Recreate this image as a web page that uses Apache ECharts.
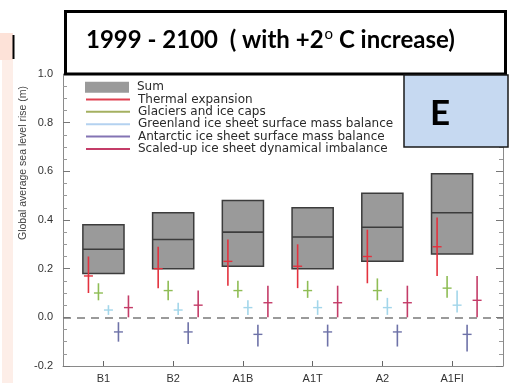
<!DOCTYPE html>
<html>
<head>
<meta charset="utf-8">
<script src="https://cdn.jsdelivr.net/npm/echarts@6/dist/echarts.min.js"></script>
<style>
  html, body { margin: 0; padding: 0; background: #fff; }
  #chart { width: 514px; height: 387px; }
</style>
</head>
<body>
<div id="chart"></div>
<script>
// scenarios on the x axis
const scenarios = ['B1', 'B2', 'A1B', 'A1T', 'A2', 'A1FI'];
const yTicks = [-0.2, 0.0, 0.2, 0.4, 0.6, 0.8, 1.0];

// total sea level rise (box: low / high, line: middle)
const sumLow  = [0.18, 0.20, 0.21, 0.20, 0.23, 0.26];
const sumHigh = [0.38, 0.43, 0.48, 0.45, 0.51, 0.59];
const sumMid  = [0.28, 0.32, 0.35, 0.33, 0.37, 0.43];

// components (vertical range + middle mark)
const thermalLow  = [0.10, 0.12, 0.13, 0.12, 0.14, 0.17];
const thermalHigh = [0.25, 0.29, 0.32, 0.30, 0.36, 0.41];
const thermalMid  = [0.17, 0.20, 0.23, 0.21, 0.25, 0.29];

const glacierLow  = [0.07, 0.07, 0.08, 0.08, 0.07, 0.08];
const glacierHigh = [0.14, 0.15, 0.15, 0.15, 0.16, 0.17];
const glacierMid  = [0.10, 0.11, 0.11, 0.11, 0.11, 0.12];

const greenlandLow  = [0.01, 0.01, 0.01, 0.01, 0.01, 0.02];
const greenlandHigh = [0.05, 0.06, 0.07, 0.07, 0.08, 0.11];
const greenlandMid  = [0.03, 0.03, 0.04, 0.04, 0.04, 0.05];

const antarcticLow  = [-0.10, -0.11, -0.12, -0.12, -0.12, -0.14];
const antarcticHigh = [-0.02, -0.02, -0.03, -0.03, -0.03, -0.03];
const antarcticMid  = [-0.06, -0.06, -0.07, -0.06, -0.06, -0.07];

const scaledLow  = [0.00, 0.00, 0.00, 0.00, 0.00, 0.00];
const scaledHigh = [0.09, 0.11, 0.13, 0.13, 0.13, 0.17];
const scaledMid  = [0.04, 0.05, 0.06, 0.06, 0.06, 0.07];

const chart = echarts.init(document.getElementById('chart'));

function rows(low, high, mid) {
  return scenarios.map((s, i) => [i, low[i], high[i], mid[i]]);
}

// grey box for the sum
function renderBox(params, api) {
  const x = api.value(0);
  const lo = api.coord([x, api.value(1)]);
  const hi = api.coord([x, api.value(2)]);
  const md = api.coord([x, api.value(3)]);
  const w = api.size([0.59, 0])[0];
  return {
    type: 'group',
    children: [
      { type: 'rect', shape: { x: lo[0] - w / 2, y: hi[1], width: w, height: lo[1] - hi[1] },
        style: { fill: '#9a9a9a', stroke: '#3c3c3c', lineWidth: 1.5 } },
      { type: 'line', shape: { x1: lo[0] - w / 2, y1: md[1], x2: lo[0] + w / 2, y2: md[1] },
        style: { stroke: '#3c3c3c', lineWidth: 1.6 } }
    ]
  };
}

// small cross: range line + middle tick, shifted sideways by px
function crossRenderer(shift, color) {
  return function (params, api) {
    const x = api.value(0);
    const lo = api.coord([x, api.value(1)]);
    const hi = api.coord([x, api.value(2)]);
    const md = api.coord([x, api.value(3)]);
    const cx = lo[0] + shift;
    return {
      type: 'group',
      children: [
        { type: 'line', shape: { x1: cx, y1: lo[1], x2: cx, y2: hi[1] },
          style: { stroke: color, lineWidth: 1.6 } },
        { type: 'line', shape: { x1: cx - 4.5, y1: md[1], x2: cx + 4.5, y2: md[1] },
          style: { stroke: color, lineWidth: 1.4 } }
      ]
    };
  };
}

const names = ['Sum', 'Thermal expansion', 'Glaciers and ice caps',
  'Greenland ice sheet surface mass balance', 'Antarctic ice sheet surface mass balance',
  'Scaled-up ice sheet dynamical imbalance'];
const colors = ['#9a9a9a', '#e3323e', '#8fbd55', '#a3d6ea', '#6e72a8', '#c43c68'];
const legendColors = ['#9a9a9a', '#e04050', '#a4b060', '#b4d2f0', '#8474b4', '#c43c68'];

function crossSeries(k, shift, data) {
  return {
    name: names[k],
    type: 'custom',
    renderItem: crossRenderer(shift, colors[k]),
    itemStyle: { color: colors[k] },
    data: data,
    z: 3
  };
}

// plain line entry so the legend shows a simple stroke
function legendLine(k) {
  return {
    name: names[k],
    type: 'line',
    symbol: 'none',
    color: legendColors[k],
    lineStyle: { color: legendColors[k], width: 1.3 },
    data: []
  };
}

const legendText = { fontSize: 12, color: '#2a2a2a', fontFamily: 'DejaVu Sans',
  lineHeight: 12.4, padding: [0, 0, 0, 3] };

const option = {
  animation: false,
  grid: { left: 63, right: 11, top: 74, bottom: 21 },
  // two legends: the grey box and the thin coloured lines
  legend: [{
    orient: 'vertical',
    left: 85,
    top: 81,
    padding: 0,
    itemWidth: 44,
    itemHeight: 11,
    icon: 'rect',
    selectedMode: false,
    textStyle: legendText,
    data: names.slice(0, 1)
  }, {
    orient: 'vertical',
    left: 85,
    top: 93.2,
    padding: 0,
    itemGap: 0,
    itemWidth: 44,
    itemHeight: 11,
    itemStyle: { opacity: 0 },   // hide the symbol, keep the line
    selectedMode: false,
    textStyle: legendText,
    data: names.slice(1)
  }],
  xAxis: {
    type: 'value',
    min: -0.58,
    max: 5.73,
    splitLine: { show: false },
    axisLine: { onZero: false, lineStyle: { color: '#8a8a8a' } },
    axisTick: { inside: true, length: 5, customValues: [0, 1, 2, 3, 4, 5],
      lineStyle: { color: '#666' } },
    axisLabel: { customValues: [0, 1, 2, 3, 4, 5], formatter: v => scenarios[v],
      fontSize: 11, color: '#333', margin: 7, fontFamily: 'Liberation Sans' }
  },
  yAxis: [{
    type: 'value',
    min: yTicks[0],
    max: yTicks[yTicks.length - 1],
    interval: 0.2,
    name: 'Global average sea level rise (m)',
    nameLocation: 'middle',
    nameGap: 34,
    nameMoveOverlap: false,
    nameTextStyle: { fontSize: 10.5, color: '#444', fontFamily: 'Liberation Sans',
      padding: [0, 0, 0, 114] },
    splitLine: { show: false },
    axisLine: { show: true, onZero: false, lineStyle: { color: '#8a8a8a' } },
    axisTick: { inside: true, length: 7, lineStyle: { color: '#777' } },
    minorTick: { show: true, splitNumber: 4, length: 4, lineStyle: { color: '#999' } },
    axisLabel: { formatter: v => v.toFixed(1), fontSize: 11, color: '#333',
      margin: 10, fontFamily: 'Liberation Sans' }
  }, {
    type: 'value',
    position: 'right',
    min: yTicks[0],
    max: yTicks[yTicks.length - 1],
    interval: 0.2,
    splitLine: { show: false },
    axisLine: { show: true, onZero: false, lineStyle: { color: '#8a8a8a' } },
    axisTick: { inside: true, length: 7, lineStyle: { color: '#777' } },
    minorTick: { show: true, splitNumber: 4, length: 4, lineStyle: { color: '#999' } },
    axisLabel: { show: false }
  }],
  series: [
    {
      name: names[0],
      type: 'custom',
      renderItem: renderBox,
      itemStyle: { color: colors[0] },
      data: rows(sumLow, sumHigh, sumMid),
      markLine: {
        silent: true,
        symbol: 'none',
        label: { show: false },
        lineStyle: { type: [8, 6], color: '#7a7a7a', width: 1.6 },
        data: [{ yAxis: 0 }]
      }
    },
    legendLine(1), legendLine(2), legendLine(3), legendLine(4), legendLine(5),
    crossSeries(1, -15, rows(thermalLow, thermalHigh, thermalMid)),
    crossSeries(2, -5, rows(glacierLow, glacierHigh, glacierMid)),
    crossSeries(3, 5, rows(greenlandLow, greenlandHigh, greenlandMid)),
    crossSeries(4, 15, rows(antarcticLow, antarcticHigh, antarcticMid)),
    crossSeries(5, 25, rows(scaledLow, scaledHigh, scaledMid))
  ],
  graphic: [
    // pink strip on the left
    { type: 'rect', z: 100, shape: { x: 0, y: 33, width: 13, height: 27 }, style: { fill: '#fde2d8' } },
    { type: 'rect', z: 100, shape: { x: 2, y: 60, width: 11, height: 323 }, style: { fill: '#fdeee8' } },
    { type: 'line', z: 101, shape: { x1: 13.5, y1: 35, x2: 13.5, y2: 59 }, style: { stroke: '#000', lineWidth: 2 } },
    // title box
    { type: 'rect', z: 100, shape: { x: 65.5, y: 11.5, width: 440, height: 62.5 },
      style: { fill: '#fff', stroke: '#000', lineWidth: 3 } },
    { type: 'text', z: 101, x: 86, y: 40,
      style: {
        text: '{a|1999 - 2100  ( with +2}{s|o}{a| C increase)}',
        verticalAlign: 'middle',
        rich: {
          a: { fontSize: 24, fontWeight: 'bold', fontFamily: 'Lato', fill: '#000' },
          s: { fontSize: 15, fontFamily: 'Lato', fill: '#000',
            verticalAlign: 'top', padding: [0, 0, 12, 1] }
        }
      } },
    // panel letter
    { type: 'rect', z: 100, shape: { x: 404, y: 75, width: 104, height: 72 },
      style: { fill: '#c6d9f1', stroke: '#1a1a1a', lineWidth: 1.5 } },
    { type: 'text', z: 101, x: 440, y: 114,
      style: { text: 'E', fontSize: 35, fontWeight: 'bold', fontFamily: 'Lato', fill: '#000',
        align: 'center', verticalAlign: 'middle' } }
  ]
};

chart.setOption(option);
</script>
</body>
</html>
